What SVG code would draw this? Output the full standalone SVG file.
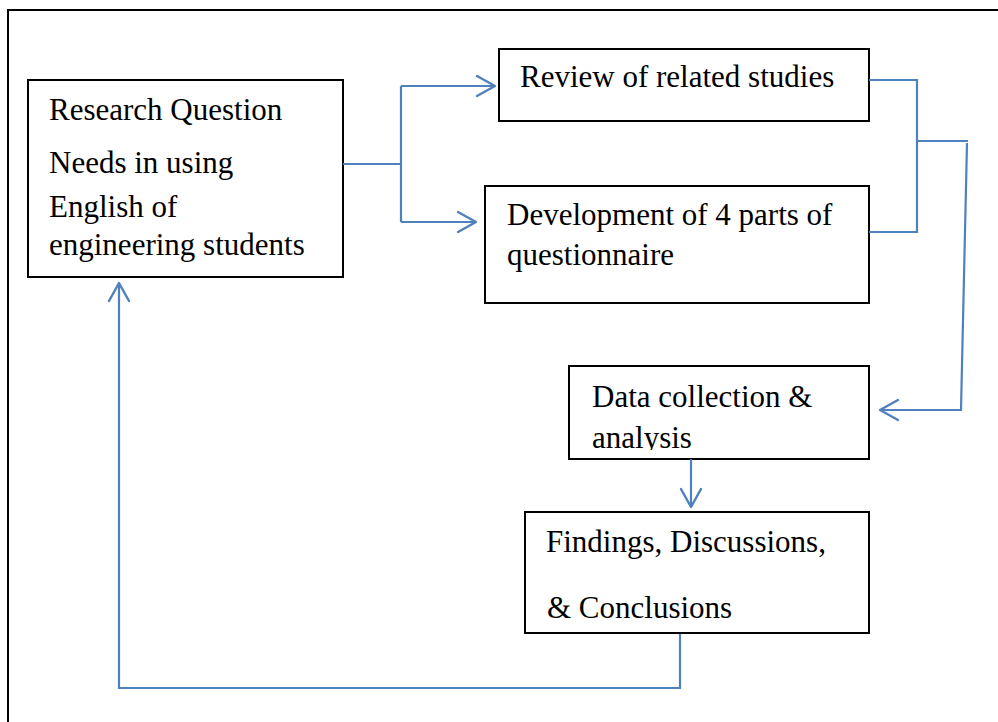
<svg xmlns="http://www.w3.org/2000/svg" width="998" height="722" viewBox="0 0 998 722">
<style>
.box{fill:#fff;stroke:#000;stroke-width:2}
.c{fill:none;stroke:#4F81BD;stroke-width:2.2}
text{font-size:31px;fill:#000}
</style>
<defs>
<marker id="ah" markerUnits="userSpaceOnUse" viewBox="0 0 24 24" markerWidth="24" markerHeight="24" refX="20" refY="12" orient="auto">
<path d="M2,2 L20,12 L2,22" fill="none" stroke="#4F81BD" stroke-width="2.4" stroke-linecap="round" stroke-linejoin="round"/>
</marker>
<clipPath id="clipData"><rect x="569" y="366" width="300" height="84"/></clipPath>
</defs>
<rect width="998" height="722" fill="#fff"/>
<path d="M8,724 V10 H1000" fill="none" stroke="#000" stroke-width="2"/>
<g id="node-research">
<rect class="box" x="28" y="80" width="315" height="197"/>
<text font-family="Liberation Serif" x="49" y="120">Research Question</text>
<text font-family="Times New Roman" x="49" y="173">Needs in using</text>
<text font-family="serif" x="49" y="217">English of</text>
<text font-family="Times New Roman" x="49" y="255">engineering students</text>
</g>
<g id="node-review">
<rect class="box" x="499" y="49" width="370" height="72"/>
<text font-family="Tinos" x="520" y="87">Review of related studies</text>
</g>
<g id="node-development">
<rect class="box" x="485" y="186" width="384" height="117"/>
<text font-family="Times" x="507" y="225">Development of 4 parts of</text>
<text font-family="Liberation Serif, serif" x="507" y="265">questionnaire</text>
</g>
<g id="node-data">
<rect class="box" x="569" y="366" width="300" height="93"/>
<g clip-path="url(#clipData)">
<text font-family="Liberation Serif" x="592" y="407">Data collection &amp;</text>
<text font-family="Liberation Serif" x="592" y="448">analysis</text>
</g>
</g>
<g id="node-findings">
<rect class="box" x="525" y="512" width="344" height="121"/>
<text font-family="Times" x="546" y="552">Findings, Discussions,</text>
<text font-family="Liberation Serif" x="547" y="618">&amp; Conclusions</text>
</g>
<g id="connectors">
<path class="c" d="M343,164 H401 M401,86 V222"/>
<path class="c" d="M401,86 H495" marker-end="url(#ah)"/>
<path class="c" d="M401,222 H476" marker-end="url(#ah)"/>
<path class="c" d="M869,80 H917 V232 H869 M917,141 H968"/>
<path class="c" d="M967,143 L961,410 H880" marker-end="url(#ah)"/>
<path class="c" d="M691,459 V507" marker-end="url(#ah)"/>
<path class="c" d="M680,634 V688 H119 V283" marker-end="url(#ah)"/>
</g>
</svg>
